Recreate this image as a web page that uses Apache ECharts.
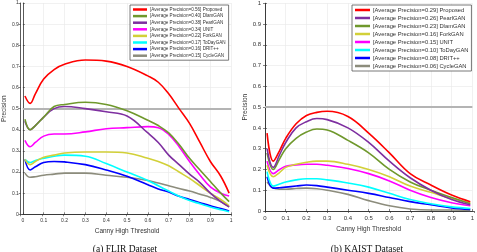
<!DOCTYPE html>
<html><head><meta charset="utf-8">
<script src="https://cdn.jsdelivr.net/npm/echarts@6/dist/echarts.min.js"></script>
<style>html,body{margin:0;padding:0;background:#fff}#c{width:477px;height:252px}</style>
</head><body><div id="c"></div>
<script>
// ---- data ----
const xTicks = [0,0.1,0.2,0.3,0.4,0.5,0.6,0.7,0.8,0.9,1];
const leftX = [0.01,0.035,0.06,0.1,0.15,0.2,0.3,0.4,0.5,0.6,0.65,0.7,0.75,0.8,0.85,0.9,0.95,0.99];
const leftNames = ["[Average Precision=0.56] Proposed","[Average Precision=0.40] DlamGAN","[Average Precision=0.38] PearlGAN","[Average Precision=0.34] UNIT","[Average Precision=0.22] ForkGAN","[Average Precision=0.17] ToDayGAN","[Average Precision=0.16] DRIT++","[Average Precision=0.15] CycleGAN"];
const leftProposed = [0.56,0.525,0.57,0.64,0.685,0.71,0.73,0.725,0.70,0.655,0.625,0.57,0.50,0.43,0.34,0.25,0.18,0.10];
const leftDlam     = [0.45,0.40,0.42,0.46,0.51,0.52,0.53,0.52,0.49,0.445,0.42,0.385,0.33,0.265,0.21,0.155,0.10,0.06];
const leftPearl    = [0.44,0.40,0.42,0.46,0.50,0.51,0.50,0.485,0.465,0.385,0.34,0.28,0.235,0.19,0.15,0.10,0.06,0.035];
const leftUnit     = [0.35,0.32,0.34,0.37,0.38,0.38,0.39,0.405,0.41,0.415,0.41,0.378,0.32,0.25,0.186,0.13,0.10,0.087];
const leftFork     = [0.26,0.235,0.25,0.27,0.28,0.29,0.295,0.295,0.29,0.265,0.25,0.23,0.20,0.17,0.135,0.10,0.07,0.04];
const leftToDay    = [0.26,0.245,0.255,0.265,0.275,0.28,0.275,0.24,0.20,0.16,0.135,0.11,0.085,0.065,0.05,0.035,0.022,0.012];
const leftDrit     = [0.26,0.21,0.225,0.245,0.25,0.248,0.235,0.21,0.18,0.14,0.12,0.105,0.085,0.07,0.055,0.04,0.027,0.015];
const leftCycle    = [0.195,0.175,0.178,0.185,0.19,0.195,0.195,0.185,0.175,0.16,0.148,0.135,0.122,0.11,0.095,0.08,0.06,0.035];

const rightX = [0.01,0.04,0.07,0.1,0.15,0.2,0.25,0.3,0.4,0.5,0.6,0.7,0.8,0.9,0.99];
const rightNames = ["[Average Precision=0.29] Proposed","[Average Precision=0.26] PearlGAN","[Average Precision=0.23] DlamGAN","[Average Precision=0.16] ForkGAN","[Average Precision=0.15] UNIT","[Average Precision=0.10] ToDayGAN","[Average Precision=0.08] DRIT++","[Average Precision=0.06] CycleGAN"];
const rightProposed = [0.375,0.24,0.29,0.35,0.42,0.46,0.475,0.48,0.455,0.375,0.28,0.18,0.125,0.077,0.045];
const rightPearl    = [0.30,0.21,0.27,0.33,0.40,0.43,0.445,0.44,0.40,0.33,0.24,0.16,0.10,0.055,0.03];
const rightDlam     = [0.28,0.20,0.25,0.30,0.35,0.38,0.395,0.39,0.34,0.28,0.20,0.14,0.10,0.065,0.035];
const rightFork     = [0.22,0.165,0.185,0.21,0.225,0.235,0.24,0.24,0.225,0.20,0.165,0.12,0.09,0.06,0.04];
const rightUnit     = [0.24,0.18,0.20,0.215,0.222,0.225,0.225,0.22,0.205,0.18,0.145,0.10,0.065,0.04,0.025];
const rightToDay    = [0.19,0.12,0.13,0.14,0.15,0.155,0.155,0.15,0.135,0.115,0.085,0.055,0.035,0.02,0.012];
const rightDrit     = [0.165,0.11,0.112,0.115,0.12,0.125,0.122,0.115,0.10,0.085,0.065,0.045,0.03,0.015,0.008];
const rightCycle    = [0.14,0.11,0.105,0.105,0.108,0.11,0.107,0.10,0.08,0.05,0.025,0.01,0.005,0.005,0.003];
const refLine = 0.5;

// ---- styling ----
const C = {red:'#ff0000', olive:'#6f982c', purple:'#7e2fa0', magenta:'#ff00ff', yellow:'#d2d038', cyan:'#00ffff', blue:'#0000ff', gray:'#8c8c7c'};
const leftData = [leftProposed,leftDlam,leftPearl,leftUnit,leftFork,leftToDay,leftDrit,leftCycle];
const leftCol = [C.red,C.olive,C.purple,C.magenta,C.yellow,C.cyan,C.blue,C.gray];
const rightData = [rightProposed,rightPearl,rightDlam,rightFork,rightUnit,rightToDay,rightDrit,rightCycle];
const rightCol = [C.red,C.purple,C.olive,C.yellow,C.magenta,C.cyan,C.blue,C.gray];

const fmt = v => String(+(+v).toFixed(1));
function mainX(gi, fs){return {type:'value',gridIndex:gi,min:0,max:1,interval:0.1,
  axisLine:{show:true,lineStyle:{color:'#333',width:0.8}},axisTick:{inside:true,length:2,lineStyle:{color:'#333',width:0.6}},
  axisLabel:{fontSize:fs,color:'#333',margin:4,formatter:fmt,fontFamily:'Liberation Sans'},
  splitLine:{show:true,lineStyle:{color:'#e8e8e8',width:0.6}},
  name:'Canny High Threshold',nameLocation:'middle',nameGap:11,nameTextStyle:{fontSize:6.5,color:'#333',fontFamily:'Liberation Sans'}};}
function topX(gi){return {type:'value',gridIndex:gi,min:0,max:1,interval:0.1,position:'top',
  axisLine:{show:true,lineStyle:{color:'#333',width:0.8}},axisTick:{inside:true,length:2,lineStyle:{color:'#333',width:0.6}},
  axisLabel:{show:false},splitLine:{show:false}};}
function mainY(gi, fs){return {type:'value',gridIndex:gi,min:0,max:1,interval:0.1,
  axisLine:{show:true,lineStyle:{color:'#333',width:0.8}},axisTick:{inside:true,length:2,lineStyle:{color:'#333',width:0.6}},
  axisLabel:{fontSize:fs,color:'#333',margin:4,formatter:fmt,fontFamily:'Liberation Sans'},
  splitLine:{show:true,lineStyle:{color:'#e8e8e8',width:0.6}},
  name:'Precision',nameLocation:'middle',nameGap:12,nameTextStyle:{fontSize:6.5,color:'#333',fontFamily:'Liberation Sans'}};}
function rightY(gi){return {type:'value',gridIndex:gi,min:0,max:1,interval:0.1,position:'right',
  axisLine:{show:true,lineStyle:{color:'#333',width:0.8}},axisTick:{inside:true,length:2,lineStyle:{color:'#333',width:0.6}},
  axisLabel:{show:false},splitLine:{show:false}};}

const series = [];
leftData.forEach((d,i)=>series.push({type:'line',name:leftNames[i],xAxisIndex:0,yAxisIndex:0,smooth:0.4,showSymbol:false,
  data:leftX.map((x,j)=>[x,d[j]]),lineStyle:{width:1.6,color:leftCol[i]},itemStyle:{color:leftCol[i]},z:10-i,
  markLine: i===0 ? {silent:true,symbol:'none',label:{show:false},lineStyle:{color:'#b4b4b4',width:2,type:'solid'},data:[{yAxis:refLine}]} : undefined}));
rightData.forEach((d,i)=>series.push({type:'line',name:rightNames[i],xAxisIndex:2,yAxisIndex:2,smooth:0.4,showSymbol:false,
  data:rightX.map((x,j)=>[x,d[j]]),lineStyle:{width:1.6,color:rightCol[i]},itemStyle:{color:rightCol[i]},z:10-i,
  markLine: i===0 ? {silent:true,symbol:'none',label:{show:false},lineStyle:{color:'#b4b4b4',width:2,type:'solid'},data:[{yAxis:refLine}]} : undefined}));

const chart = echarts.init(document.getElementById('c'),null,{renderer:'canvas'});
chart.setOption({
  animation:false,
  grid:[{left:20.7,top:3,width:210.5,height:211.3},{left:20.7,top:3,width:210.5,height:211.3},
        {left:265,top:3.3,width:209,height:207.7},{left:265,top:3.3,width:209,height:207.7}],
  xAxis:[mainX(0,5),topX(1),mainX(2,6),topX(3)],
  yAxis:[mainY(0,5),rightY(1),mainY(2,6),rightY(3)],
  legend:[
    {data:leftNames,orient:'vertical',left:130,top:5,padding:[2,3,2,3],itemGap:1.6,itemWidth:14,itemHeight:2.5,icon:'rect',
     backgroundColor:'#fff',borderColor:'#555',borderWidth:0.8,borderRadius:0,
     textStyle:{fontSize:4.6,color:'#333',fontFamily:'Liberation Sans',padding:[0,0,0,-2]},selectedMode:false},
    {data:rightNames,orient:'vertical',left:352,top:5,padding:[2,3,2,3],itemGap:2,itemWidth:15,itemHeight:2.5,icon:'rect',
     backgroundColor:'#fff',borderColor:'#555',borderWidth:0.8,borderRadius:0,
     textStyle:{fontSize:5.8,color:'#333',fontFamily:'Liberation Sans',padding:[0,0,0,-2]},selectedMode:false}
  ],
  title:[
    {text:'(a) FLIR Dataset',left:120,top:239,textAlign:'center',textStyle:{fontSize:9.5,fontWeight:'normal',color:'#111',fontFamily:'Liberation Serif'}},
    {text:'(b) KAIST Dataset',left:362,top:239,textAlign:'center',textStyle:{fontSize:9.5,fontWeight:'normal',color:'#111',fontFamily:'Liberation Serif'}}
  ],
  series:series
});
</script></body></html>
